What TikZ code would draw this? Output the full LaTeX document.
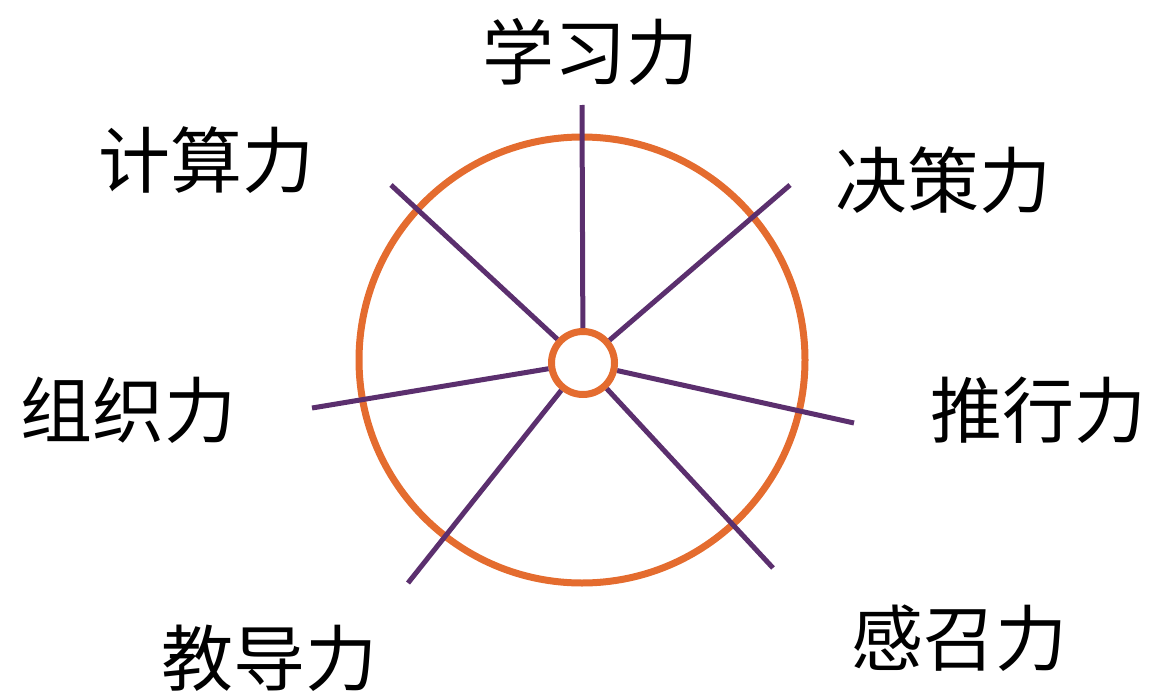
\documentclass[tikz,border=0pt]{standalone}
\usepackage{fontspec}
\newfontfamily\cjk{Noto Sans CJK SC}
\definecolor{ringorange}{HTML}{E46C2F}
\definecolor{spokepurple}{HTML}{5B2F6E}
\begin{document}
\begin{tikzpicture}[x=1pt,y=-1pt,
  lbl/.style={font=\cjk\fontsize{72}{74}\selectfont, inner sep=0pt},
  ring/.style={circle, draw=ringorange, line width=7pt, inner sep=0pt},
  spoke/.style={draw=spokepurple, line width=5pt}]
\useasboundingbox (0,0) rectangle (1153,693);
\node[ring, minimum size=446pt] (big) at (582,360) {};
\node[ring, minimum size=63pt, fill=white] (hub) at (583,363) {};
\coordinate (eN) at (582,105);
\coordinate (eNE) at (790,185);
\coordinate (eE) at (854,423);
\coordinate (eSE) at (773,568);
\coordinate (eSW) at (408,583);
\coordinate (eW) at (312,408);
\coordinate (eNW) at (391,185);
\foreach \e in {eN,eNE,eE,eSE,eSW,eW,eNW} \draw[spoke] (hub) -- (\e);
\node[lbl] (l1) at (590,52) {学习力};
\node[lbl] (l2) at (206,160) {计算力};
\node[lbl] (l3) at (943,180) {决策力};
\node[lbl] (l4) at (1038,410) {推行力};
\node[lbl] (l5) at (128,410) {组织力};
\node[lbl] (l6) at (269,658) {教导力};
\node[lbl] (l7) at (959,638) {感召力};
\end{tikzpicture}
\end{document}
